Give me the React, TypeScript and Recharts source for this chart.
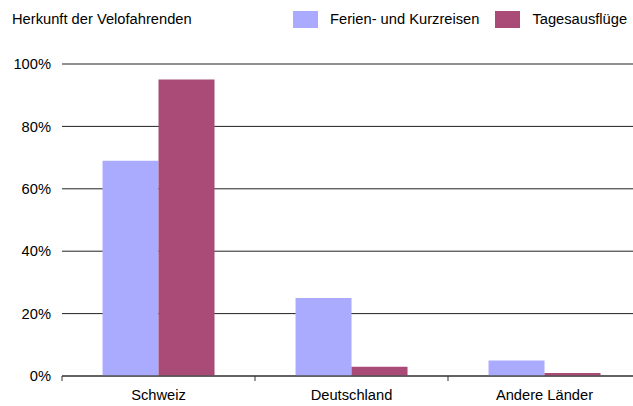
import React from 'react';
import { BarChart, Bar, XAxis, YAxis, CartesianGrid } from 'recharts';

const categories = ['Schweiz', 'Deutschland', 'Andere Länder'];
const ferien = [69, 25, 5];
const tages = [95, 3, 1];
const yTicks = [0, 20, 40, 60, 80, 100];
const seriesNames = ['Ferien- und Kurzreisen', 'Tagesausflüge'];
const seriesColors = ['#aaaaff', '#aa4a77'];
const title = 'Herkunft der Velofahrenden';

const data = categories.map((c, i) => ({ name: c, ferien: ferien[i], tages: tages[i] }));

const FONT = '"Liberation Sans", Arial, Helvetica, sans-serif';
const FS = 14.7;
const TICK_SIZE = 5;
const TICK_MARGIN = 9;

const XTick = (props: any) => {
  const { x, y, payload, index } = props;
  const axisY = y - TICK_SIZE - TICK_MARGIN;
  const half = payload.offset || 0;
  return (
    <g>
      <line x1={x - half} x2={x - half} y1={axisY} y2={axisY + TICK_SIZE} stroke="#333" strokeWidth={1} />
      {index === categories.length - 1 && (
        <line x1={x + half} x2={x + half} y1={axisY} y2={axisY + TICK_SIZE} stroke="#333" strokeWidth={1} />
      )}
      <text x={x} y={y} dy="0.71em" textAnchor="middle" fill="#000" fontSize={FS} fontFamily={FONT}>
        {payload.value}
      </text>
    </g>
  );
};

export default function App() {
  return (
    <div style={{ position: 'absolute', left: 0, top: 0, width: 633, height: 406, overflow: 'hidden', background: '#fff', fontFamily: FONT }}>
      <div style={{ position: 'absolute', left: 12, top: 12, fontSize: FS, lineHeight: '15px', color: '#000', whiteSpace: 'nowrap' }}>{title}</div>
      <div style={{ position: 'absolute', left: 293, top: 11, display: 'flex', alignItems: 'center', fontSize: FS, lineHeight: '15px', color: '#000', whiteSpace: 'nowrap' }}>
        {seriesNames.map((n, i) => (
          <div key={n} style={{ display: 'flex', alignItems: 'center', marginRight: 16 }}>
            <div style={{ width: 25, height: 17, background: seriesColors[i], marginRight: 12 }} />
            <span>{n}</span>
          </div>
        ))}
      </div>
      <BarChart
        width={645}
        height={406}
        data={data}
        margin={{ top: 64, right: 4, left: 0, bottom: 0 }}
        barCategoryGap="21%"
        barGap={0}
      >
        <CartesianGrid horizontal vertical={false} stroke="#222" strokeWidth={1} />
        <XAxis
          dataKey="name"
          height={30}
          axisLine={{ stroke: '#555', strokeWidth: 1.5 }}
          tickLine={false}
          tickSize={TICK_SIZE}
          tickMargin={TICK_MARGIN}
          tick={<XTick />}
          interval={0}
        />
        <YAxis
          width={62}
          domain={[0, 100]}
          ticks={yTicks}
          axisLine={false}
          tickLine={false}
          tickMargin={5}
          tickFormatter={(v: number) => `${v}%`}
          tick={{ fill: '#000', fontSize: FS, fontFamily: FONT }}
        />
        <Bar dataKey="ferien" name={seriesNames[0]} fill={seriesColors[0]} isAnimationActive={false} />
        <Bar dataKey="tages" name={seriesNames[1]} fill={seriesColors[1]} isAnimationActive={false} />
      </BarChart>
    </div>
  );
}
